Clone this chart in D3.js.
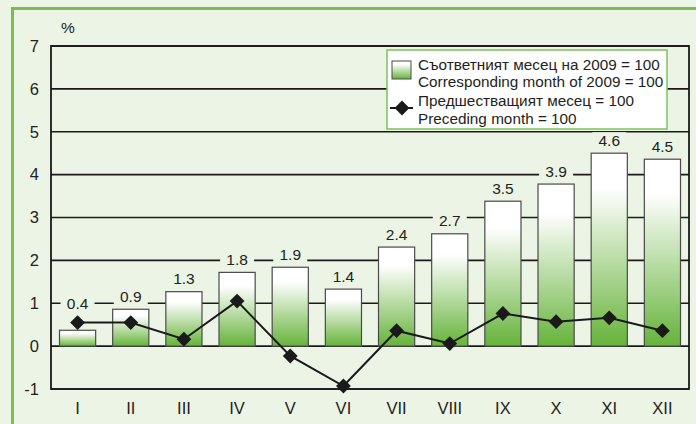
<!DOCTYPE html>
<html>
<head>
<meta charset="utf-8">
<script src="https://cdn.jsdelivr.net/npm/d3@7"></script>
<style>
  body { margin: 0; background: #ebf4e5; }
  text { font-family: "Liberation Sans", Arial, sans-serif; fill: #231f20; }
</style>
</head>
<body>
<script>
// months (roman numerals)
var months = ['I','II','III','IV','V','VI','VII','VIII','IX','X','XI','XII'];
// bars: corresponding month of 2009 = 100 (heights as drawn)
var barValues = [0.37, 0.86, 1.27, 1.72, 1.84, 1.33, 2.31, 2.62, 3.38, 3.78, 4.50, 4.36];
// printed labels on top of bars
var barLabels = ['0.4','0.9','1.3','1.8','1.9','1.4','2.4','2.7','3.5','3.9','4.6','4.5'];
// line: preceding month = 100
var lineValues = [0.55, 0.55, 0.16, 1.05, -0.23, -0.93, 0.36, 0.06, 0.76, 0.57, 0.66, 0.36];
var yTicks = [-1, 0, 1, 2, 3, 4, 5, 6, 7];
var legendLines = [
  'Съответният месец на 2009 = 100',
  'Corresponding month of 2009 = 100',
  'Предшестващият месец = 100',
  'Preceding month = 100'
];

var w = 696;
var h = 424;
var bg = '#ebf4e5';
var pLeft = 51, pRight = 689, pTop = 46, pBottom = 389;

var svg = d3.select('body')
            .append('svg')
            .attr('width', w)
            .attr('height', h)
            .style('display', 'block');

// gradient for bars
var grad = svg.append('defs').append('linearGradient')
  .attr('id', 'barGrad')
  .attr('x1', 0).attr('y1', 0).attr('x2', 0).attr('y2', 1);
grad.append('stop').attr('offset', '0%').attr('stop-color', '#ffffff');
grad.append('stop').attr('offset', '18%').attr('stop-color', '#ffffff');
grad.append('stop').attr('offset', '100%').attr('stop-color', '#66b33a');

// outer green frame
svg.append('rect')
  .attr('x', 12.5).attr('y', 8.5)
  .attr('width', w).attr('height', h)
  .attr('fill', bg)
  .attr('stroke', '#77c04f')
  .attr('stroke-width', 3);

var x = d3.scaleBand()
  .domain(months)
  .range([pLeft, pRight])
  .paddingInner(0.32)
  .paddingOuter(0.16);

var y = d3.scaleLinear()
  .domain([-1, 7])
  .range([pBottom, pTop]);

// gridlines
svg.append('g')
  .selectAll('line')
  .data(yTicks)
  .enter()
  .append('line')
    .attr('x1', pLeft).attr('x2', pRight)
    .attr('y1', d => y(d)).attr('y2', d => y(d))
    .attr('stroke', '#1a1a1a')
    .attr('stroke-width', 1.6);

// plot frame
svg.append('rect')
  .attr('x', pLeft).attr('y', pTop)
  .attr('width', pRight - pLeft).attr('height', pBottom - pTop)
  .attr('fill', 'none')
  .attr('stroke', '#1a1a1a')
  .attr('stroke-width', 1.8);

// y axis labels (plain hyphen for negatives, as in the original)
var yAxis = d3.axisLeft(y).tickValues(yTicks).tickSize(0).tickPadding(12)
  .tickFormat(d => String(d));
var gy = svg.append('g')
  .attr('transform', 'translate(' + pLeft + ',0)')
  .call(yAxis);
gy.select('.domain').remove();
gy.selectAll('text')
  .attr('font-size', 16.5)
  .attr('font-family', '"Liberation Sans", Arial, sans-serif')
  .attr('fill', '#231f20');

// x axis labels
var xAxis = d3.axisBottom(x).tickSize(0).tickPadding(13);
var gx = svg.append('g')
  .attr('transform', 'translate(0,' + pBottom + ')')
  .call(xAxis);
gx.select('.domain').remove();
gx.selectAll('text')
  .attr('font-size', 16.5)
  .attr('font-family', '"Liberation Sans", Arial, sans-serif')
  .attr('fill', '#231f20');

svg.append('text')
  .text('%')
  .attr('x', 68).attr('y', 33)
  .attr('text-anchor', 'middle')
  .attr('font-size', 15.5);

// bars
svg.append('g')
  .selectAll('rect')
  .data(barValues)
  .enter()
  .append('rect')
    .attr('x', (d, i) => x(months[i]))
    .attr('y', d => y(d))
    .attr('width', x.bandwidth())
    .attr('height', d => y(0) - y(d))
    .attr('fill', 'url(#barGrad)')
    .attr('stroke', '#4a4a4a')
    .attr('stroke-width', 1.2);

// bar labels with background patches
function labelY(i) {
  var barTop = y(barValues[i]);
  var mark = y(lineValues[i]) - 6;
  return Math.min(barTop, mark) - 13;
}
var lab = svg.append('g')
  .selectAll('g')
  .data(barLabels)
  .enter()
  .append('g')
    .attr('transform', (d, i) => 'translate(' + (x(months[i]) + x.bandwidth() / 2) + ',' + labelY(i) + ')');
lab.append('rect')
  .attr('x', -17).attr('y', -8)
  .attr('width', 34).attr('height', 16)
  .attr('fill', bg);
lab.append('text')
  .text(d => d)
  .attr('text-anchor', 'middle')
  .attr('dy', '0.36em')
  .attr('font-size', 15.5);

// line series
var line = d3.line()
  .x((d, i) => x(months[i]) + x.bandwidth() / 2)
  .y(d => y(d));
svg.append('path')
  .datum(lineValues)
  .attr('d', line)
  .attr('fill', 'none')
  .attr('stroke', '#1a1a1a')
  .attr('stroke-width', 2);

var diamond = d3.symbol().type(d3.symbolSquare).size(110);
svg.append('g')
  .selectAll('path')
  .data(lineValues)
  .enter()
  .append('path')
    .attr('d', diamond)
    .attr('transform', (d, i) => 'translate(' + (x(months[i]) + x.bandwidth() / 2) + ',' + y(d) + ') rotate(45)')
    .attr('fill', '#1a1a1a');

// legend
var lg = svg.append('g').attr('transform', 'translate(387,50)');
lg.append('rect')
  .attr('width', 280).attr('height', 79)
  .attr('fill', '#ffffff')
  .attr('stroke', '#7cc35a')
  .attr('stroke-width', 1.5);
lg.append('rect')
  .attr('x', 5).attr('y', 11)
  .attr('width', 19).attr('height', 18)
  .attr('fill', 'url(#barGrad)')
  .attr('stroke', '#4a4a4a')
  .attr('stroke-width', 1);
lg.append('line')
  .attr('x1', 3).attr('x2', 26)
  .attr('y1', 58).attr('y2', 58)
  .attr('stroke', '#1a1a1a')
  .attr('stroke-width', 2);
lg.append('path')
  .attr('d', diamond)
  .attr('transform', 'translate(15,58) rotate(45)')
  .attr('fill', '#1a1a1a');
lg.selectAll('text.leg')
  .data(legendLines)
  .enter()
  .append('text')
    .attr('class', 'leg')
    .text(d => d)
    .attr('x', 31)
    .attr('y', (d, i) => [14, 31.5, 50.5, 68][i])
    .attr('dy', '0.36em')
    .attr('font-size', 15.3);
</script>
</body>
</html>
